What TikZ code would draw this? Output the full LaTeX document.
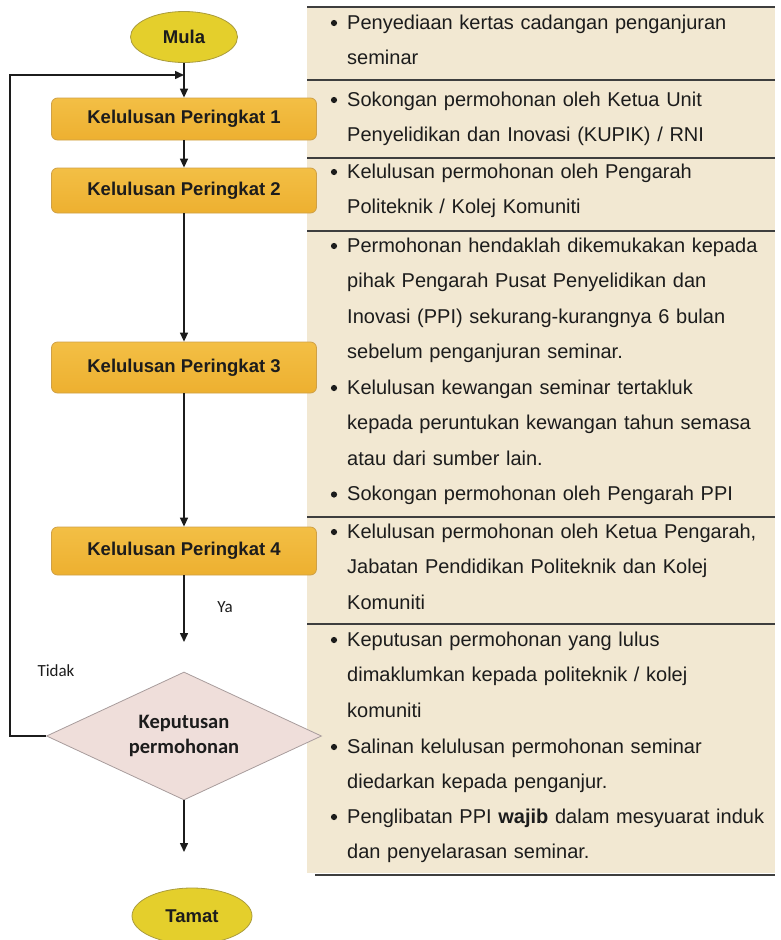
\documentclass[tikz,border=0pt]{standalone}
\usepackage{fontspec}
\setmainfont{Liberation Sans}
\newfontfamily\calib{Carlito}
\usetikzlibrary{shapes.geometric,arrows.meta}
\definecolor{panelbg}{HTML}{F2E8D2}
\definecolor{boxtop}{HTML}{F3BF45}
\definecolor{boxbot}{HTML}{EDB030}
\definecolor{boxedge}{HTML}{CFA046}
\definecolor{ellfill}{HTML}{E4CF2C}
\definecolor{elledge}{HTML}{A99B3C}
\definecolor{diafill}{HTML}{EFDEDA}
\definecolor{diaedge}{HTML}{A89C9C}
\definecolor{ink}{HTML}{1C1C1C}
\tikzset{
  arr/.style={line width=1.5pt, draw=ink, -{Triangle[length=9pt,width=8pt]}},
  stepbox/.style={draw=boxedge, line width=0.8pt, rounded corners=6pt,
    top color=boxtop, bottom color=boxbot, minimum width=265pt,
    inner sep=0pt, font=\fontsize{18.5}{22}\selectfont\bfseries, text=ink},
  term/.style={ellipse, draw=elledge, line width=0.8pt, fill=ellfill, inner sep=0pt,
    font=\fontsize{18.5}{22}\selectfont\bfseries, text=ink},
  decision/.style={diamond, draw=diaedge, line width=0.8pt, fill=diafill, inner sep=0pt,
    shape aspect=2.15, minimum width=275pt, minimum height=128pt,
    font=\calib\fontsize{20.5}{25}\selectfont\bfseries, text=ink, align=center},
  itemtext/.style={anchor=base west, inner sep=0pt, text width=425pt, align=left,
    font=\fontsize{20}{35.5}\selectfont, text=ink},
  lbl/.style={inner sep=0pt, font=\calib\fontsize{17}{20}\selectfont, text=ink},
  sep/.style={line width=1.5pt, draw=ink!85},
}
\newcommand{\bul}[1]{\fill[ink] (334,#1) circle (3.1pt);}
\begin{document}
\begin{tikzpicture}[x=1pt,y=-1pt]
\useasboundingbox (0,0) rectangle (781,940);
% right panel
\fill[panelbg] (307,7) rectangle (775,873);
\draw[sep] (307,7) -- (775,7);
\draw[sep] (307,80) -- (775,80);
\draw[sep] (307,158) -- (775,158);
\draw[sep] (307,231) -- (775,231);
\draw[sep] (307,517) -- (775,517);
\draw[sep] (307,624) -- (775,624);
\draw[sep] (315,875) -- (775,875);

% texts
\node[itemtext] (t1) at (347,29) {Penyediaan kertas cadangan penganjuran\\seminar};
\node[itemtext] (t2) at (347,106) {Sokongan permohonan oleh Ketua Unit\\Penyelidikan dan Inovasi (KUPIK) / RNI};
\node[itemtext] (t3) at (347,178) {Kelulusan permohonan oleh Pengarah\\Politeknik / Kolej Komuniti};
\node[itemtext] (t4) at (347,252) {Permohonan hendaklah dikemukakan kepada\\pihak Pengarah Pusat Penyelidikan dan\\Inovasi (PPI) sekurang-kurangnya 6 bulan\\sebelum penganjuran seminar.};
\node[itemtext] (t5) at (347,394) {Kelulusan kewangan seminar tertakluk\\kepada peruntukan kewangan tahun semasa\\atau dari sumber lain.};
\node[itemtext] (t6) at (347,500.5) {Sokongan permohonan oleh Pengarah PPI};
\node[itemtext] (t7) at (347,538) {Kelulusan permohonan oleh Ketua Pengarah,\\Jabatan Pendidikan Politeknik dan Kolej\\Komuniti};
\node[itemtext] (t8) at (347,646) {Keputusan permohonan yang lulus\\dimaklumkan kepada politeknik / kolej\\komuniti};
\node[itemtext] (t9) at (347,753) {Salinan kelulusan permohonan seminar\\diedarkan kepada penganjur.};
\node[itemtext] (t10) at (347,823) {Penglibatan PPI \textbf{wajib} dalam mesyuarat induk\\dan penyelarasan seminar.};
\bul{23}\bul{100}\bul{172}\bul{246}\bul{388}\bul{494.5}\bul{532}\bul{640}\bul{747}\bul{817}

% flow
\node[term, minimum width=107pt, minimum height=51pt] (mula) at (184,37) {Mula};
\node[stepbox, minimum height=42pt] (b1) at (184,119) {Kelulusan Peringkat 1};
\node[stepbox, minimum height=45pt] (b2) at (184,190.5) {Kelulusan Peringkat 2};
\node[stepbox, minimum height=51pt] (b3) at (184,367.5) {Kelulusan Peringkat 3};
\node[stepbox, minimum height=48pt] (b4) at (184,551) {Kelulusan Peringkat 4};
\node[decision] (dec) at (184,736) {Keputusan\\permohonan};
\node[term, minimum width=120pt, minimum height=56pt] (tamat) at (192,916) {Tamat};

\coordinate (j) at (184,75);
\coordinate (ya) at (184,642);
\coordinate (dn) at (184,852);

\draw[arr] (mula) -- (b1);
\draw[arr] (b1) -- (b2);
\draw[arr] (b2) -- (b3);
\draw[arr] (b3) -- (b4);
\draw[arr] (b4) -- (ya);
\draw[arr] (dec) -- (dn);
\draw[arr] (dec.west) -- ++(-36,0) |- (j);

\node[lbl] (lya) at (225,607) {Ya};
\node[lbl] (ltidak) at (56,671) {Tidak};
\end{tikzpicture}
\end{document}
